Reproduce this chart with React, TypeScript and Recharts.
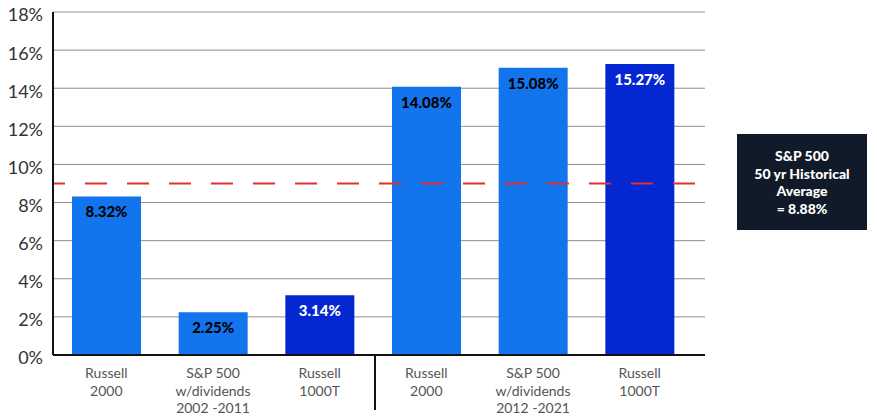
import React from "react";
import {
  BarChart,
  Bar,
  XAxis,
  YAxis,
  CartesianGrid,
  ReferenceLine,
  LabelList,
  Cell,
} from "recharts";

// category labels, one array of lines per bar
const categoryLines: string[][] = [
  ["Russell", "2000"],
  ["S&P 500", "w/dividends", "2002 -2011"],
  ["Russell", "1000T"],
  ["Russell", "2000"],
  ["S&P 500", "w/dividends", "2012 -2021"],
  ["Russell", "1000T"],
];
const returns = [8.32, 2.25, 3.14, 14.08, 15.08, 15.27];
const isRussell1000 = [false, false, true, false, false, true];
const yTicks = [0, 2, 4, 6, 8, 10, 12, 14, 16, 18];
const historicalLine = 9; // where the dashed line sits in the picture
const historicalText = ["S&P 500", "50 yr Historical", "Average", "= 8.88%"];

const LIGHT = "#1275ED";
const DARK = "#0527D1";

const data = returns.map((v, i) => ({ id: `c${i}`, value: v, index: i }));

const CategoryTick = (props: any) => {
  const { x, y, payload, index } = props;
  const lines = categoryLines[index] || [];
  const half = payload?.offset ?? 53;
  return (
    <g>
      {index === 3 && (
        <line x1={x - half + 2} x2={x - half + 2} y1={y - 8} y2={y + 47} stroke="#111" strokeWidth={2} />
      )}
      <text x={x} y={y} textAnchor="middle" fill="#555" fontSize={14}>
        {lines.map((l, i) => (
          <tspan key={i} x={x} dy={i === 0 ? 15 : 17.5}>
            {l}
          </tspan>
        ))}
      </text>
    </g>
  );
};

const ValueLabel = (props: any) => {
  const { x, y, width, index, value } = props;
  return (
    <text
      x={x + width / 2}
      y={y + 15}
      textAnchor="middle"
      dominantBaseline="central"
      fontSize={15}
      fontWeight={900}
      fill={isRussell1000[index] ? "#fff" : "#000"}
    >
      {`${Number(value).toFixed(2)}%`}
    </text>
  );
};

export default function App() {
  return (
    <div
      style={{
        position: "absolute",
        left: 0,
        top: 0,
        width: 877,
        height: 419,
        background: "#fff",
        fontFamily: "Lato, sans-serif",
      }}
    >
      <BarChart
        width={877}
        height={419}
        data={data}
        margin={{ top: 12, right: 172, bottom: 0, left: 0 }}
        barSize={69}
      >
        <CartesianGrid vertical={false} stroke="#8f8f8f" />
        <XAxis
          dataKey="id"
          height={64}
          tick={<CategoryTick />}
          tickLine={false}
          axisLine={{ stroke: "#111", strokeWidth: 2 }}
          padding={{ left: 0, right: 12 }}
          interval={0}
        />
        <YAxis
          width={53}
          domain={[0, 18]}
          ticks={yTicks}
          tickFormatter={(v) => `${v}%`}
          tickLine={false}
          tickSize={0}
          tickMargin={10}
          axisLine={{ stroke: "#111", strokeWidth: 2 }}
          tick={{ fill: "#333", fontSize: 18, dy: 3 }}
        />
        <Bar dataKey="value" isAnimationActive={false}>
          {data.map((d, i) => (
            <Cell key={d.id} fill={isRussell1000[i] ? DARK : LIGHT} />
          ))}
          <LabelList dataKey="value" content={<ValueLabel />} />
        </Bar>
        <ReferenceLine
          y={historicalLine}
          stroke="#E0302F"
          strokeWidth={2}
          strokeDasharray="22 20"
          strokeDashoffset={10}
        />
      </BarChart>
      <div
        style={{
          position: "absolute",
          left: 737,
          top: 134,
          width: 130,
          height: 96,
          background: "#101a29",
          color: "#fff",
          fontWeight: 900,
          fontSize: 14,
          lineHeight: "17.5px",
          textAlign: "center",
          display: "flex",
          flexDirection: "column",
          justifyContent: "center",
        }}
      >
        {historicalText.map((t) => (
          <div key={t}>{t}</div>
        ))}
      </div>
    </div>
  );
}
